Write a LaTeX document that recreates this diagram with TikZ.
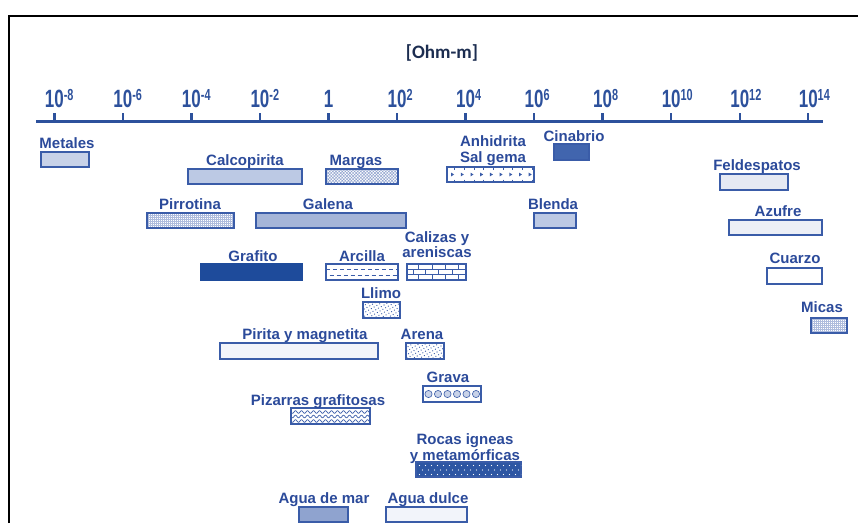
\documentclass[tikz,border=0pt]{standalone}
\usepackage{fontspec}
\usepackage{graphicx}
\setmainfont{Liberation Sans}
\newfontfamily\carl{Carlito}
\usetikzlibrary{patterns.meta}
\definecolor{txt}{HTML}{2B4A9A}
\definecolor{brd}{HTML}{3A5CA8}
\definecolor{axc}{HTML}{2D519C}
\definecolor{ohm}{HTML}{1C2D50}
\definecolor{cMet}{HTML}{C8D2E8}
\definecolor{cCal}{HTML}{BCC9E4}
\definecolor{cGal}{HTML}{A5B5D8}
\definecolor{cGra}{HTML}{1E4B9B}
\definecolor{cCin}{HTML}{4165AE}
\definecolor{cFel}{HTML}{E5E9F3}
\definecolor{cAzu}{HTML}{ECEFF6}
\definecolor{cPir}{HTML}{F2F4FA}
\definecolor{cMar}{HTML}{8FA3CF}
\definecolor{cRoc}{HTML}{2D56A3}
\definecolor{cPat}{HTML}{8FA2CE}
\definecolor{cPatL}{HTML}{AEBCDD}
\newcommand\tk[2]{\scalebox{0.68}[1]{\fontsize{25}{25}\selectfont\bfseries #1\rlap{\raisebox{6.5pt}{\fontsize{16}{16}\selectfont\bfseries #2}}}}
\newcommand\mybar[6]{\node[bar,#6,minimum width={(#4)-(#2)},minimum height={(#5)-(#3)}] (#1) at ({((#2)+(#4))/2},{((#3)+(#5))/2}) {};}
\begin{document}
\begin{tikzpicture}[x=1pt,y=-1pt,
  lab/.style={font=\fontsize{15}{16}\selectfont\bfseries, text=txt, inner sep=0pt, anchor=base},
  lab2/.style={lab, anchor=south, align=center},
  tick/.style={inner sep=0pt, anchor=base, text=axc},
  bar/.style={draw=brd, line width=1.4pt, inner sep=0pt, outer sep=0pt, rectangle},
  deco/.style={brd, line width=0.6pt}]
\useasboundingbox (0,0) rectangle (858,523);
% frame
\draw[line width=1.3pt] (9,523) -- (9,16) -- (858,16);
% unit
\node[font=\carl\fontsize{19}{20}\selectfont\bfseries, text=ohm, inner sep=0pt, anchor=base] (unit) at (442,58.5) {[Ohm-m]};
% axis
\coordinate (axL) at (36,121);
\coordinate (axR) at (823,121);
\draw[axc, line width=3pt] (axL) -- (axR);
\foreach \d [count=\i] in {-8,-6,...,14}{
  \pgfmathsetmacro\xx{328.5+34.27*\d}
  \draw[axc, line width=2.4pt] (\xx,121) -- (\xx,113);
  \ifnum\d=0
    \node[tick] (tick\i) at (\xx,107) {\tk{1}{}};
  \else
    \node[tick] (tick\i) at (\xx,107) {\tk{10}{\d}};
  \fi
}
% bars
\mybar{metales}{41}{152}{89}{167}{fill=cMet}
\mybar{calco}{188}{169}{302}{184}{fill=cCal}
\mybar{margas}{326}{169}{398}{184}{preaction={fill=white},pattern={Hatch[angle=45,distance=2.2pt,line width=0.5pt]},pattern color=cPat}
\mybar{pirrot}{147}{213}{234}{228}{preaction={fill=white},pattern={Hatch[angle=0,distance=2pt,line width=0.4pt]},pattern color=cPatL}
\mybar{galena}{256}{213}{406}{228}{fill=cGal}
\mybar{grafito}{201}{264}{302}{280}{fill=cGra,draw=cGra}
\mybar{arcilla}{326}{264}{398}{280}{fill=white}
\mybar{calizas}{407}{264}{466}{280}{fill=white}
\mybar{llimo}{363}{302}{400}{318}{preaction={fill=white},pattern={Dots[angle=30,distance=3.2pt,radius=0.65pt]},pattern color=brd}
\mybar{pirita}{220}{343}{378}{359}{fill=cPir}
\mybar{arena}{406}{343}{444}{359}{preaction={fill=white},pattern={Dots[angle=30,distance=3.2pt,radius=0.65pt]},pattern color=brd}
\mybar{grava}{423}{386}{481}{402}{fill=white}
\mybar{pizarras}{291}{408}{370}{424}{fill=white}
\mybar{rocas}{416}{462}{521}{477}{fill=cRoc}
\mybar{mar}{299}{507}{348}{522}{fill=cMar}
\mybar{dulce}{386}{507}{467}{522}{fill=cPir}
\mybar{salgema}{447}{167}{534}{182}{fill=white}
\mybar{cinabrio}{554}{144}{589}{160}{fill=cCin}
\mybar{blenda}{534}{213}{576}{228}{fill=cCal}
\mybar{feld}{720}{174}{788}{190}{fill=cFel}
\mybar{azufre}{729}{220}{822}{235}{fill=cAzu}
\mybar{cuarzo}{767}{268}{822}{284}{fill=white}
\mybar{micas}{811}{318}{847}{333}{preaction={fill=white},pattern={Hatch[angle=0,distance=2pt,line width=0.4pt]},pattern color=cPatL}
% interior decorations
\begin{scope}
  \clip (arcilla.south west) rectangle (arcilla.north east);
  \draw[deco, dash pattern=on 4pt off 3pt] (326,269.5) -- (398,269.5);
  \draw[deco, dash pattern=on 4pt off 3pt, dash phase=3.5pt] (326,275) -- (398,275);
\end{scope}
\begin{scope}
  \clip (calizas.south west) rectangle (calizas.north east);
  \draw[deco] (407,269.3) -- (466,269.3) (407,274.7) -- (466,274.7);
  \foreach \x in {418,432,445,458}{\draw[deco] (\x,264) -- (\x,269.3) (\x,274.7) -- (\x,280);}
  \foreach \x in {413,425,438,452}{\draw[deco] (\x,269.3) -- (\x,274.7);}
\end{scope}
\foreach \i in {0,...,5}{\draw[brd, line width=0.6pt, fill=cMet] ({428.5+\i*9.5},394) circle (3.6);}
\begin{scope}
  \clip (pizarras.south west) rectangle (pizarras.north east);
  \foreach \yy in {412,416.5,421}{
    \draw[deco, line width=0.7pt] plot[domain=0:79, samples=120] ({291+\x},{\yy+1.3*sin(\x*60)});
  }
\end{scope}
\begin{scope}
  \clip (salgema.south west) rectangle (salgema.north east);
  \foreach \i in {0,...,8}{
    \pgfmathsetmacro\tx{452.5+\i*9.7}
    \fill[brd] (\tx-1.4,172.6) -- (\tx+1.6,174.5) -- (\tx-1.4,176.4) -- cycle;
    \draw[deco] (\tx+2,167) -- (\tx+2,169.5) (\tx+2,179.5) -- (\tx+2,182);
  }
\end{scope}
\begin{scope}
  \clip (rocas.south west) rectangle (rocas.north east);
  \foreach \r in {0,1,2}{
    \foreach \c in {0,...,17}{
      \fill[white] ({419.5+\c*6+mod(\r,2)*3},{465.5+\r*4.5}) circle (0.7);
    }
  }
\end{scope}
% labels
\node[lab] (lmetales) at (67,148) {Metales};
\node[lab] (lcalco) at (245,165) {Calcopirita};
\node[lab] (lmargas) at (356,165) {Margas};
\node[lab] (lpirrot) at (190,209) {Pirrotina};
\node[lab] (lgalena) at (328,209) {Galena};
\node[lab] (lgrafito) at (253,261) {Grafito};
\node[lab] (larcilla) at (362,261) {Arcilla};
\node[lab2, font=\fontsize{15}{12}\selectfont\bfseries] (lcalizas) at (437,258) {Calizas y\\areniscas};
\node[lab] (lllimo) at (381,298) {Llimo};
\node[lab] (lpirita) at (305,339) {Pirita y magnetita};
\node[lab] (larena) at (422,339) {Arena};
\node[lab] (lgrava) at (448,382) {Grava};
\node[lab] (lpizarras) at (318,405) {Pizarras grafitosas};
\node[lab2] (lrocas) at (465,464) {Rocas igneas\\y metamórficas};
\node[lab] (lmar) at (324,503) {Agua de mar};
\node[lab] (ldulce) at (428,503) {Agua dulce};
\node[lab2] (lsalgema) at (493,166) {Anhidrita\\Sal gema};
\node[lab] (lcinabrio) at (574,141) {Cinabrio};
\node[lab] (lblenda) at (553,209) {Blenda};
\node[lab] (lfeld) at (757,170) {Feldespatos};
\node[lab] (lazufre) at (778,216) {Azufre};
\node[lab] (lcuarzo) at (795,263) {Cuarzo};
\node[lab] (lmicas) at (822,312) {Micas};
\end{tikzpicture}
\end{document}
